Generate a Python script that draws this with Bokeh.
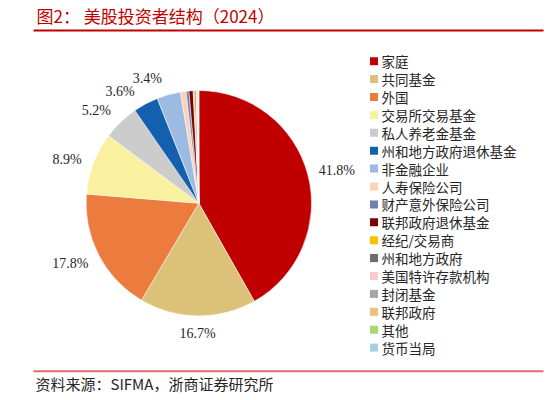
import numpy as np
from bokeh.plotting import figure
from bokeh.models import Range1d, ColumnDataSource
from bokeh.core.properties import value
from bokeh.embed import file_html
from bokeh.resources import INLINE

# ---- data ----
categories = ["家庭", "共同基金", "外国", "交易所交易基金", "私人养老金基金",
              "州和地方政府退休基金", "非金融企业", "人寿保险公司", "财产意外保险公司",
              "联邦政府退休基金", "经纪/交易商", "州和地方政府", "美国特许存款机构",
              "封闭基金", "联邦政府", "其他", "货币当局"]
shares = [41.8, 16.7, 17.8, 8.9, 5.2, 3.6, 3.4, 0.8, 0.4, 0.6, 0.2, 0.2, 0.15,
          0.1, 0.08, 0.05, 0.02]
colors = ["#C00000", "#DCC279", "#EC7C3E", "#F9F1A0", "#CCCCCC", "#1560AE",
          "#9DBBE2", "#FCD3B6", "#6E80B6", "#7F0000", "#FFC000", "#6F6F6F",
          "#F8CBD3", "#A6A6A6", "#F0BF7A", "#A9D86E", "#A8D0E0"]
n_labelled = 7
label_nudge_deg = [1.3, 0, 2.2, -2.5, -4, -7, -7]

title_text = "图2：   美股投资者结构（2024）"
source_text = "资料来源：SIFMA，浙商证券研究所"

# ---- layout ----
W, H = 548, 400
def X(px): return px
def Y(py): return H - py

p = figure(width=W, height=H, x_range=Range1d(0, W), y_range=Range1d(0, H),
           output_backend="svg", toolbar_location=None, min_border=0)
p.axis.visible = False
p.grid.visible = False
p.outline_line_color = None
p.background_fill_color = "white"
p.border_fill_color = "white"

cx, cy, R = X(198.3), Y(202.7), 112.7

vals = np.array(shares, dtype=float)
frac = vals / vals.sum()
cum = np.concatenate([[0.0], np.cumsum(frac)])
start = np.pi / 2 - 2 * np.pi * cum[1:]
end = np.pi / 2 - 2 * np.pi * cum[:-1]
src = ColumnDataSource(dict(start=start, end=end, color=colors, cat=categories))
p.wedge(x=cx, y=cy, radius=R, start_angle="start", end_angle="end",
        direction="anticlock", fill_color="color", line_color="white",
        line_width=0.5, source=src)

# data labels
fs = 14
lx, ly, lt = [], [], []
for i in range(n_labelled):
    mid = (cum[i] + cum[i + 1]) / 2 * 360 + label_nudge_deg[i]
    th = np.radians(mid)
    txt = f"{shares[i]:.1f}%"
    ndig = sum(c.isdigit() for c in txt)
    w = fs * (0.5 * ndig + 0.25 + 0.833)
    h = fs
    d = R + 10 + w / 2 * abs(np.sin(th)) + h / 2 * abs(np.cos(th))
    lx.append(cx + d * np.sin(th))
    ly.append(cy + d * np.cos(th))
    lt.append(txt)
p.text(x=lx, y=ly, text=lt, text_font=value("Liberation Serif"),
       text_font_size=value(f"{fs}px"), text_align="center",
       text_baseline="middle", text_color="#262626")

# legend
pitch = 17.9
leg_y = [Y(60.7 + i * pitch) for i in range(len(categories))]
p.scatter(x=[X(373.5)] * len(categories), y=leg_y, marker="square", size=8,
          fill_color=colors, line_color=None)
p.text(x=[X(381)] * len(categories), y=leg_y, text=categories,
       text_font=value("Noto Sans CJK SC"), text_font_size=value("13.5px"),
       text_align="left", text_baseline="middle", text_color="#262626")

# title + rules + source
p.text(x=[X(36)], y=[Y(14.5)], text=[title_text], text_font=value("Noto Sans CJK SC"),
       text_font_size=value("17px"), text_align="left", text_baseline="middle",
       text_color="#C00000")
p.segment(x0=[X(33)], y0=[Y(30)], x1=[X(543)], y1=[Y(30)], line_color="#C00000", line_width=2)
p.segment(x0=[X(33)], y0=[Y(370.7)], x1=[X(543)], y1=[Y(370.7)], line_color="#E46A6A", line_width=2)
p.text(x=[X(35)], y=[Y(383)], text=[source_text], text_font=value("Noto Sans CJK SC"),
       text_font_size=value("15px"), text_align="left", text_baseline="middle",
       text_color="#262626")

open("out.html", "w").write(file_html(p, INLINE))
